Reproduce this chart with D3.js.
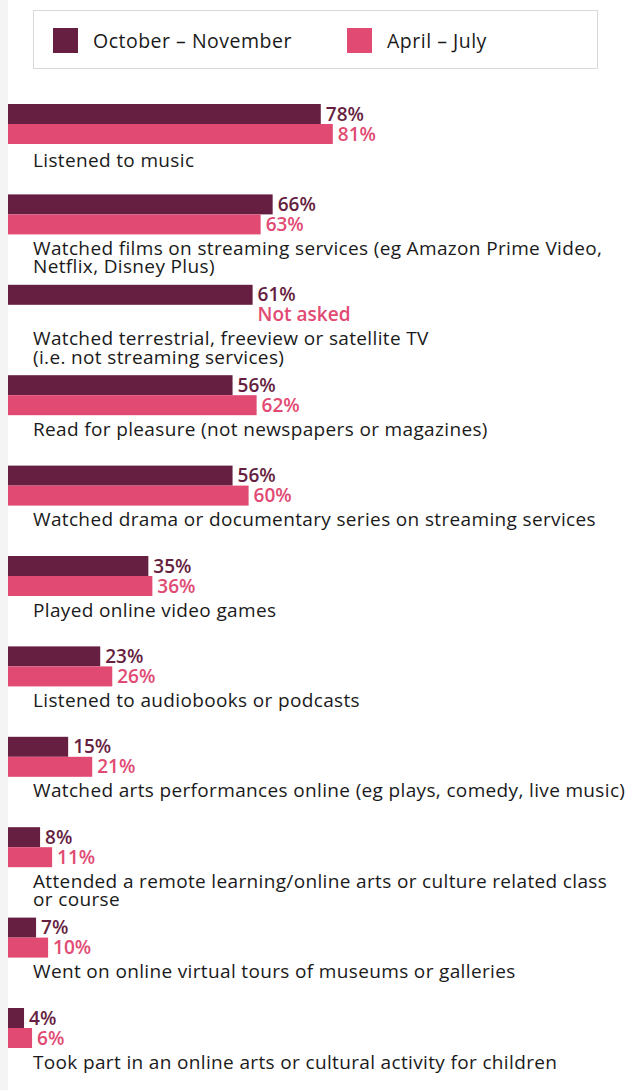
<!DOCTYPE html>
<html>
<head>
<meta charset="utf-8">
<script src="https://cdn.jsdelivr.net/npm/d3@7"></script>
<style>
  html, body { margin: 0; padding: 0; background: #ffffff; }
  svg { display: block; }
</style>
</head>
<body>
<div id="chart"></div>
<script>
// Arts and culture activities done online, two survey periods
const activities = [
  ["Listened to music"],
  ["Watched films on streaming services (eg Amazon Prime Video,", "Netflix, Disney Plus)"],
  ["Watched terrestrial, freeview or satellite TV", "(i.e. not streaming services)"],
  ["Read for pleasure (not newspapers or magazines)"],
  ["Watched drama or documentary series on streaming services"],
  ["Played online video games"],
  ["Listened to audiobooks or podcasts"],
  ["Watched arts performances online (eg plays, comedy, live music)"],
  ["Attended a remote learning/online arts or culture related class", "or course"],
  ["Went on online virtual tours of museums or galleries"],
  ["Took part in an online arts or cultural activity for children"]
];
const seriesNames = ["October \u2013 November", "April \u2013 July"];
const octNov = [78, 66, 61, 56, 56, 35, 23, 15, 8, 7, 4];
const aprJul = [81, 63, null, 62, 60, 36, 26, 21, 11, 10, 6];
const missingLabel = "Not asked";
const colors = ["#661f41", "#e14a73"];

const W = 630, H = 1090;
const FONT = "'Open Sans', sans-serif";

const svg = d3.select("#chart").append("svg")
  .attr("width", W).attr("height", H);

// grey strip down the left edge
svg.append("rect").attr("x", 0).attr("y", 0).attr("width", 8).attr("height", H)
  .attr("fill", "#f4f4f4");

// legend
const legend = svg.append("g");
legend.append("rect")
  .attr("x", 33.5).attr("y", 10.5).attr("width", 564).attr("height", 58)
  .attr("fill", "#fff").attr("stroke", "#d9d9d9").attr("stroke-width", 1);
const legendX = [53, 347];
seriesNames.forEach((name, i) => {
  legend.append("rect")
    .attr("x", legendX[i]).attr("y", 28).attr("width", 25).attr("height", 25)
    .attr("fill", colors[i]);
  legend.append("text")
    .attr("x", legendX[i] + 40).attr("y", 48)
    .attr("font-family", FONT).attr("font-size", 19.5)
    .attr("letter-spacing", 0.5)
    .attr("fill", "#1a1a1a")
    .text(name);
});

// scales
const x = d3.scaleLinear().domain([0, 100]).range([8, 409]);
const y = d3.scaleBand()
  .domain(d3.range(activities.length))
  .range([104, 104 + 90.4 * activities.length])
  .paddingInner(0).paddingOuter(0);
const sub = d3.scaleBand().domain([0, 1]).range([0, 40]);

const rows = activities.map((lines, i) => ({
  i, lines, values: [octNov[i], aprJul[i]]
}));

const g = svg.selectAll("g.row").data(rows).join("g")
  .attr("class", "row")
  .attr("transform", d => `translate(0,${y(d.i)})`);

// bars
g.selectAll("rect.bar")
  .data(d => d.values.map((v, s) => ({ v, s })).filter(e => e.v != null))
  .join("rect")
  .attr("class", "bar")
  .attr("x", x(0))
  .attr("y", e => sub(e.s))
  .attr("width", e => x(e.v) - x(0))
  .attr("height", sub.bandwidth())
  .attr("fill", e => colors[e.s]);

// value labels (a missing value sits beside the other period's bar)
g.selectAll("text.val")
  .data(d => d.values.map((v, s) => ({ v, s, ref: d.values[0] })))
  .join("text")
  .attr("class", "val")
  .attr("x", e => x(e.v != null ? e.v : e.ref) + 5)
  .attr("y", e => sub(e.s) + sub.bandwidth() - 3.5)
  .attr("font-family", FONT).attr("font-size", 19).attr("font-weight", 600)
  .attr("fill", e => colors[e.s])
  .text(e => e.v != null ? e.v + "%" : missingLabel);

// category labels
g.append("text")
  .attr("class", "cat")
  .attr("x", 33)
  .attr("y", d => d.i === 0 ? 62.5 : 60.5)
  .attr("font-family", FONT).attr("font-size", 19)
  .attr("letter-spacing", 0.35)
  .attr("fill", "#1a1a1a")
  .selectAll("tspan")
  .data(d => d.lines)
  .join("tspan")
  .attr("x", 33)
  .attr("dy", (l, j) => j === 0 ? 0 : 18.3)
  .text(l => l);
</script>
</body>
</html>
